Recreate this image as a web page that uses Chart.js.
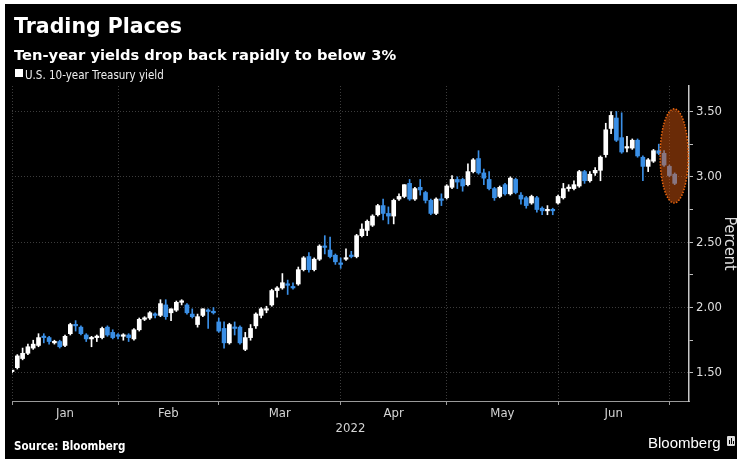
<!DOCTYPE html>
<html>
<head>
<meta charset="utf-8">
<script src="https://cdn.jsdelivr.net/npm/chart.js@4.4.0/dist/chart.umd.min.js"></script>
<style>
  html, body { margin: 0; padding: 0; background: #fff; }
  #frame { position: absolute; left: 5px; top: 4px; width: 732px; height: 455px; background: #000; }
  #wrap { position: absolute; left: 0; top: 0; width: 737px; height: 459px; }
  .txt { position: absolute; color: #fff; white-space: nowrap; line-height: 1; }
  #title { left: 14px; top: 14px; font: bold 20.5px "DejaVu Sans", sans-serif; }
  #subtitle { left: 14px; top: 45.5px; font: bold 14.7px "DejaVu Sans", sans-serif; }
  #legendBox { position: absolute; left: 15px; top: 69px; width: 8px; height: 8px; background: #fff; }
  #legend { left: 25px; top: 68.3px; font: 11.5px "DejaVu Sans Condensed", "Liberation Sans Narrow", sans-serif; color: #eee; }
  #source { left: 14px; top: 439px; font: bold 11.5px "DejaVu Sans Condensed", "Liberation Sans Narrow", sans-serif; }
  #brand { left: 648px; top: 434px; font: 15px "Liberation Sans", sans-serif; }
  #logo { position: absolute; left: 727px; top: 436px; width: 8px; height: 10px; background: #ddd; border-radius: 1px; }
  #logo i { position: absolute; bottom: 2px; width: 1px; background: #000; }
</style>
</head>
<body>
<div id="frame"></div>
<div id="wrap"><canvas id="chart" width="737" height="459"></canvas></div>
<div class="txt" id="title">Trading Places</div>
<div class="txt" id="subtitle">Ten-year yields drop back rapidly to below 3%</div>
<div id="legendBox"></div>
<div class="txt" id="legend">U.S. 10-year Treasury yield</div>
<div class="txt" id="source">Source: Bloomberg</div>
<div class="txt" id="brand">Bloomberg</div>
<div id="logo"><i style="left:2px;height:4px"></i><i style="left:4px;height:6px"></i><i style="left:6px;height:3px"></i></div>
<script>
// trading days shown on the chart
const days = [
  '2021-12-31',
  '2022-01-03','2022-01-04','2022-01-05','2022-01-06','2022-01-07','2022-01-10','2022-01-11','2022-01-12','2022-01-13','2022-01-14',
  '2022-01-18','2022-01-19','2022-01-20','2022-01-21','2022-01-24','2022-01-25','2022-01-26','2022-01-27','2022-01-28','2022-01-31',
  '2022-02-01','2022-02-02','2022-02-03','2022-02-04','2022-02-07','2022-02-08','2022-02-09','2022-02-10','2022-02-11','2022-02-14',
  '2022-02-15','2022-02-16','2022-02-17','2022-02-18','2022-02-22','2022-02-23','2022-02-24','2022-02-25','2022-02-28',
  '2022-03-01','2022-03-02','2022-03-03','2022-03-04','2022-03-07','2022-03-08','2022-03-09','2022-03-10','2022-03-11','2022-03-14',
  '2022-03-15','2022-03-16','2022-03-17','2022-03-18','2022-03-21','2022-03-22','2022-03-23','2022-03-24','2022-03-25','2022-03-28',
  '2022-03-29','2022-03-30','2022-03-31',
  '2022-04-01','2022-04-04','2022-04-05','2022-04-06','2022-04-07','2022-04-08','2022-04-11','2022-04-12','2022-04-13','2022-04-14',
  '2022-04-18','2022-04-19','2022-04-20','2022-04-21','2022-04-22','2022-04-25','2022-04-26','2022-04-27','2022-04-28','2022-04-29',
  '2022-05-02','2022-05-03','2022-05-04','2022-05-05','2022-05-06','2022-05-09','2022-05-10','2022-05-11','2022-05-12','2022-05-13',
  '2022-05-16','2022-05-17','2022-05-18','2022-05-19','2022-05-20','2022-05-23','2022-05-24','2022-05-25','2022-05-26','2022-05-27','2022-05-31',
  '2022-06-01','2022-06-02','2022-06-03','2022-06-06','2022-06-07','2022-06-08','2022-06-09','2022-06-10','2022-06-13','2022-06-14',
  '2022-06-15','2022-06-16','2022-06-17','2022-06-21','2022-06-22','2022-06-23','2022-06-24','2022-06-27','2022-06-28','2022-06-29','2022-06-30',
  '2022-07-01'
];

const open = [
  1.51,
  1.54, 1.61, 1.65, 1.69, 1.71, 1.78, 1.77, 1.73, 1.74, 1.71, 1.80, 1.87, 1.85, 1.79, 1.76, 1.77, 1.77, 1.85, 1.81, 1.79,
  1.78, 1.79, 1.76, 1.83, 1.91, 1.92, 1.95, 1.94, 2.02, 1.96, 1.98, 2.04, 2.02, 1.95, 1.87, 1.94, 1.98, 1.97, 1.89,
  1.84, 1.73, 1.85, 1.85, 1.68, 1.77, 1.86, 1.94, 1.98, 2.02, 2.13, 2.15, 2.18, 2.16, 2.18, 2.29, 2.39, 2.29, 2.37, 2.47, 2.44, 2.40, 2.34,
  2.37, 2.40, 2.39, 2.55, 2.59, 2.63, 2.71, 2.78, 2.72, 2.70, 2.83, 2.85, 2.95, 2.83, 2.92, 2.88, 2.82, 2.72, 2.83, 2.84,
  2.92, 2.98, 2.98, 2.94, 3.04, 3.14, 3.03, 2.98, 2.91, 2.85, 2.94, 2.87, 2.98, 2.86, 2.84, 2.80, 2.84, 2.76, 2.74, 2.75, 2.80,
  2.84, 2.91, 2.91, 2.93, 3.04, 2.97, 3.03, 3.05, 3.17, 3.37, 3.45, 3.30, 3.22, 3.22, 3.28, 3.15, 3.08, 3.12, 3.20, 3.18, 3.08,
  3.02
];
const high = [
  1.52,
  1.64, 1.69, 1.72, 1.75, 1.80, 1.80, 1.78, 1.75, 1.75, 1.79, 1.88, 1.90, 1.86, 1.80, 1.78, 1.79, 1.85, 1.86, 1.83, 1.80,
  1.80, 1.80, 1.84, 1.92, 1.93, 1.97, 1.96, 2.06, 2.06, 1.99, 2.05, 2.06, 2.03, 1.99, 1.95, 1.99, 1.99, 2.00, 1.92,
  1.89, 1.88, 1.89, 1.86, 1.81, 1.87, 1.96, 2.00, 2.01, 2.14, 2.16, 2.26, 2.21, 2.19, 2.31, 2.39, 2.42, 2.38, 2.48, 2.55, 2.54, 2.41, 2.38,
  2.45, 2.43, 2.56, 2.64, 2.67, 2.71, 2.79, 2.83, 2.77, 2.83, 2.87, 2.94, 2.98, 2.92, 2.98, 2.89, 2.83, 2.84, 2.87, 2.94,
  3.01, 3.00, 2.99, 3.10, 3.14, 3.20, 3.06, 3.04, 2.92, 2.93, 2.95, 3.00, 2.99, 2.88, 2.85, 2.86, 2.85, 2.77, 2.78, 2.76, 2.86,
  2.95, 2.94, 2.97, 3.05, 3.05, 3.04, 3.07, 3.16, 3.41, 3.50, 3.50, 3.49, 3.31, 3.29, 3.29, 3.16, 3.14, 3.21, 3.25, 3.20, 3.09,
  3.03
];
const low = [
  1.50,
  1.53, 1.60, 1.64, 1.68, 1.70, 1.73, 1.72, 1.72, 1.69, 1.70, 1.79, 1.82, 1.79, 1.74, 1.70, 1.74, 1.76, 1.78, 1.76, 1.76,
  1.75, 1.74, 1.75, 1.82, 1.90, 1.91, 1.92, 1.93, 1.91, 1.90, 1.97, 2.02, 1.95, 1.92, 1.85, 1.93, 1.84, 1.95, 1.81,
  1.69, 1.72, 1.79, 1.72, 1.67, 1.75, 1.84, 1.92, 1.96, 2.01, 2.08, 2.14, 2.10, 2.14, 2.17, 2.28, 2.27, 2.28, 2.36, 2.41, 2.38, 2.33, 2.30,
  2.36, 2.38, 2.38, 2.54, 2.55, 2.62, 2.70, 2.67, 2.64, 2.64, 2.82, 2.84, 2.82, 2.82, 2.86, 2.80, 2.71, 2.71, 2.78, 2.83,
  2.91, 2.91, 2.89, 2.93, 3.03, 3.02, 2.94, 2.90, 2.82, 2.84, 2.86, 2.86, 2.87, 2.79, 2.76, 2.79, 2.73, 2.71, 2.71, 2.71, 2.79,
  2.83, 2.89, 2.90, 2.92, 2.95, 2.96, 3.01, 2.97, 3.15, 3.33, 3.27, 3.18, 3.19, 3.21, 3.15, 2.97, 3.04, 3.11, 3.17, 3.08, 3.00,
  2.94
];
const close = [
  1.52,
  1.63, 1.65, 1.70, 1.72, 1.77, 1.77, 1.74, 1.74, 1.70, 1.78, 1.87, 1.86, 1.80, 1.76, 1.77, 1.78, 1.84, 1.79, 1.77, 1.78,
  1.79, 1.77, 1.83, 1.91, 1.92, 1.96, 1.94, 2.03, 1.93, 1.99, 2.04, 2.04, 1.96, 1.93, 1.93, 1.99, 1.97, 1.96, 1.82,
  1.73, 1.87, 1.84, 1.73, 1.77, 1.84, 1.95, 1.99, 1.99, 2.13, 2.15, 2.19, 2.17, 2.15, 2.29, 2.38, 2.29, 2.37, 2.47, 2.46, 2.39, 2.35, 2.33,
  2.38, 2.39, 2.55, 2.60, 2.66, 2.70, 2.78, 2.72, 2.70, 2.82, 2.85, 2.94, 2.83, 2.91, 2.90, 2.82, 2.72, 2.83, 2.82, 2.93,
  2.98, 2.96, 2.93, 3.04, 3.13, 3.03, 2.99, 2.91, 2.84, 2.92, 2.87, 2.99, 2.88, 2.83, 2.78, 2.85, 2.75, 2.74, 2.75, 2.74, 2.85,
  2.91, 2.92, 2.94, 3.04, 2.97, 3.02, 3.05, 3.15, 3.36, 3.47, 3.28, 3.19, 3.23, 3.28, 3.16, 3.08, 3.13, 3.20, 3.18, 3.09, 3.01,
  2.95
];

const monthNames = ['Jan', 'Feb', 'Mar', 'Apr', 'May', 'Jun'];
const yTickVals = [1.50, 1.75, 2.00, 2.25, 2.50, 2.75, 3.00, 3.25, 3.50];

const upColor = '#ffffff';
const downColor = '#3a8fe6';
const gridColor = '#3c3c3c';
const labelFont = { family: '"DejaVu Sans Condensed", "Liberation Sans Narrow", sans-serif', size: 13 };

// last trading day of each month -> month grid lines
const monthEnds = [];
days.forEach((d, i) => {
    if (i < days.length - 1 && d.slice(0, 7) !== days[i + 1].slice(0, 7)) monthEnds.push(i);
});
const monthMids = monthNames.map((m, k) => (monthEnds[k] + monthEnds[k + 1]) / 2);
const xTickVals = monthEnds.concat(monthMids).sort((a, b) => a - b);

function isMonthEnd(v) { return monthEnds.includes(v); }
function isMajorY(v) { return Math.abs(v * 2 - Math.round(v * 2)) < 1e-6; }

const candleColors = open.map((o, i) => close[i] >= o ? upColor : downColor);
const bodies = open.map((o, i) => ({ x: i, y: [o, close[i]] }));
const wicks = low.map((l, i) => ({ x: i, y: [l, high[i]] }));

// orange highlight round the last sessions
const highlight = { center: 124.9, halfWidth: 2.65, value: 3.16, halfHeight: 0.36 };

const ellipsePlugin = {
    id: 'ellipse',
    afterDatasetsDraw(chart) {
        const { ctx, scales: { x, y } } = chart;
        const cx = x.getPixelForValue(highlight.center);
        const cy = y.getPixelForValue(highlight.value);
        const rx = x.getPixelForValue(highlight.center + highlight.halfWidth) - cx;
        const ry = cy - y.getPixelForValue(highlight.value + highlight.halfHeight);
        ctx.save();
        ctx.beginPath();
        ctx.ellipse(cx, cy, rx, ry, 0, 0, Math.PI * 2);
        ctx.fillStyle = 'rgba(226, 92, 14, 0.47)';
        ctx.fill();
        ctx.setLineDash([1.5, 1.5]);
        ctx.lineWidth = 1.5;
        ctx.strokeStyle = '#f0680f';
        ctx.stroke();
        ctx.restore();
    }
};

new Chart(document.getElementById('chart').getContext('2d'), {
    type: 'bar',
    data: {
        datasets: [
            {
                label: 'body',
                data: bodies,
                backgroundColor: candleColors,
                barThickness: 4,
                minBarLength: 1.5,
                grouped: false
            },
            {
                label: 'wick',
                data: wicks,
                backgroundColor: candleColors,
                barThickness: 1,
                grouped: false
            }
        ]
    },
    options: {
        responsive: false,
        animation: false,
        layout: { padding: { left: 12, top: 86, right: 0, bottom: 0 } },
        plugins: { legend: { display: false }, tooltip: { enabled: false } },
        scales: {
            x: {
                type: 'linear',
                min: 0,
                max: 127.7,
                offset: false,
                afterBuildTicks: s => { s.ticks = xTickVals.map(v => ({ value: v })); },
                afterFit: s => { s.height = 58; },
                ticks: {
                    autoSkip: false,
                    maxRotation: 0,
                    padding: 1,
                    color: '#d4d4d4',
                    font: labelFont,
                    callback: v => {
                        const k = monthMids.indexOf(v);
                        return k >= 0 ? monthNames[k] : '';
                    }
                },
                grid: {
                    offset: false,
                    lineWidth: 1,
                    tickLength: 4,
                    color: c => c.tick && isMonthEnd(c.tick.value) ? gridColor : 'rgba(0,0,0,0)',
                    tickColor: c => c.tick && isMonthEnd(c.tick.value) ? '#9a9a9a' : 'rgba(0,0,0,0)'
                },
                border: { color: '#9a9a9a', width: 1, dash: [1, 2] },
                title: {
                    display: true,
                    text: '2022',
                    color: '#d4d4d4',
                    font: labelFont,
                    padding: { top: 0, bottom: 23 }
                }
            },
            y: {
                position: 'right',
                min: 1.285,
                max: 3.695,
                afterBuildTicks: s => { s.ticks = yTickVals.map(v => ({ value: v })); },
                afterFit: s => { s.width = 48; },
                ticks: {
                    padding: 3,
                    color: '#dedede',
                    font: labelFont,
                    callback: v => isMajorY(v) ? v.toFixed(2) : ''
                },
                grid: {
                    lineWidth: 1,
                    tickLength: 4,
                    color: c => c.tick && isMajorY(c.tick.value) ? gridColor : 'rgba(0,0,0,0)',
                    tickColor: '#bdbdbd'
                },
                border: { color: '#c8c8c8', width: 1.5, dash: [1, 2] },
                title: {
                    display: true,
                    text: 'Percent',
                    color: '#dedede',
                    font: { family: labelFont.family, size: 16, lineHeight: 1 },
                    padding: 0
                }
            }
        }
    },
    plugins: [ellipsePlugin]
});
</script>
</body>
</html>
